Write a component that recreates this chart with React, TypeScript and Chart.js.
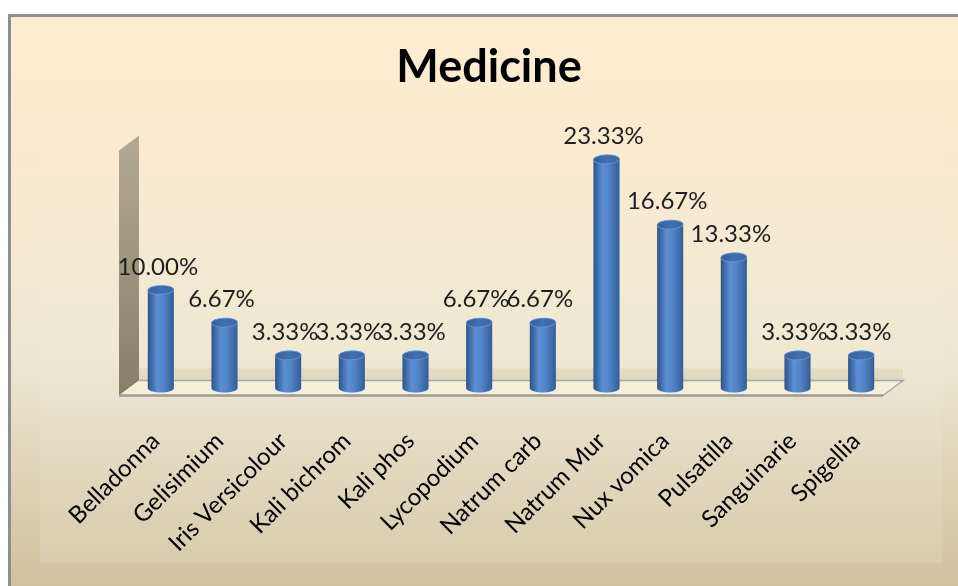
import React, { useEffect, useRef } from "react";
import { Chart, registerables } from "chart.js";

Chart.register(...registerables);

const categories = [
  "Belladonna",
  "Gelisimium",
  "Iris Versicolour",
  "Kali bichrom",
  "Kali phos",
  "Lycopodium",
  "Natrum carb",
  "Natrum Mur",
  "Nux vomica",
  "Pulsatilla",
  "Sanguinarie",
  "Spigellia",
];
const values = [10.0, 6.67, 3.33, 3.33, 3.33, 6.67, 6.67, 23.33, 16.67, 13.33, 3.33, 3.33];
const titleText = "Medicine";
const yMax = 25;

const FONT = "Lato, 'Open Sans', sans-serif";
const DX = 10; // half depth offset
const DY = 7.5;

const backgroundPlugin = {
  id: "bg3d",
  beforeDraw(chart: any) {
    const ctx = chart.ctx as CanvasRenderingContext2D;
    const W = chart.width;
    const H = chart.height;
    ctx.save();
    ctx.fillStyle = "#ffffff";
    ctx.fillRect(0, 0, W, H);
    const g = ctx.createLinearGradient(0, 15, 0, H);
    g.addColorStop(0, "#FDEDD0");
    g.addColorStop(0.25, "#FAEBD0");
    g.addColorStop(0.6, "#EFE7D2");
    g.addColorStop(1, "#D0C19D");
    ctx.fillStyle = g;
    ctx.fillRect(9, 15, W, H);
    // inner plot area (subtle)
    const g2 = ctx.createLinearGradient(0, 40, 0, 563);
    g2.addColorStop(0, "rgba(255,255,255,0)");
    g2.addColorStop(0.6, "rgba(255,255,255,0.04)");
    g2.addColorStop(1, "rgba(255,255,255,0.12)");
    ctx.fillStyle = g2;
    ctx.fillRect(40, 40, 902, 523);
    ctx.strokeStyle = "#8E8E8E";
    ctx.lineWidth = 3;
    ctx.beginPath();
    ctx.moveTo(9.5, H + 2);
    ctx.lineTo(9.5, 15.5);
    ctx.lineTo(W + 2, 15.5);
    ctx.stroke();
    // title
    ctx.fillStyle = "#000";
    ctx.font = `bold 45px ${FONT}`;
    ctx.textAlign = "center";
    ctx.textBaseline = "middle";
    ctx.fillText(titleText, 489, 67);
    ctx.restore();
  },
  beforeDatasetsDraw(chart: any) {
    const ctx = chart.ctx as CanvasRenderingContext2D;
    const { left, right } = chart.chartArea;
    const y = chart.scales.y;
    const topY = y.getPixelForValue(yMax);
    const base = y.getPixelForValue(0);
    ctx.save();
    // left wall
    const wg = ctx.createLinearGradient(0, topY, 0, base);
    wg.addColorStop(0, "#B3A993");
    wg.addColorStop(1, "#8A7F69");
    ctx.fillStyle = wg;
    ctx.beginPath();
    ctx.moveTo(left - DX, base + DY);
    ctx.lineTo(left - DX, topY + DY);
    ctx.lineTo(left + DX, topY - DY);
    ctx.lineTo(left + DX, base - DY);
    ctx.closePath();
    ctx.fill();
    // back wall bottom strip (darker beige behind floor)
    ctx.fillStyle = "rgba(200,185,150,0.25)";
    ctx.fillRect(left + DX, base - DY - 12, right - left, 12);
    // floor
    ctx.fillStyle = "#F4EEDB";
    ctx.beginPath();
    ctx.moveTo(left - DX, base + DY);
    ctx.lineTo(right - DX, base + DY);
    ctx.lineTo(right + DX, base - DY);
    ctx.lineTo(left + DX, base - DY);
    ctx.closePath();
    ctx.fill();
    ctx.strokeStyle = "#A8A8A8";
    ctx.lineWidth = 1.5;
    ctx.beginPath();
    ctx.moveTo(left + DX, base - DY);
    ctx.lineTo(right + DX, base - DY);
    ctx.lineTo(right - DX, base + DY);
    ctx.stroke();
    ctx.strokeStyle = "#9A9A9A";
    ctx.lineWidth = 2.5;
    ctx.beginPath();
    ctx.moveTo(left - DX, base + DY);
    ctx.lineTo(right - DX, base + DY);
    ctx.stroke();
    ctx.restore();
  },
  afterDatasetsDraw(chart: any) {
    const ctx = chart.ctx as CanvasRenderingContext2D;
    const meta = chart.getDatasetMeta(0);
    ctx.save();
    meta.data.forEach((bar: any, i: number) => {
      const { x, y, base, width } = bar.getProps(["x", "y", "base", "width"], true);
      const rx = width / 2;
      const ry = 4.5;
      const g = ctx.createLinearGradient(x - rx, 0, x + rx, 0);
      g.addColorStop(0, "#2C5389");
      g.addColorStop(0.35, "#5B8ED2");
      g.addColorStop(0.6, "#5284C8");
      g.addColorStop(1, "#335D98");
      ctx.fillStyle = g;
      ctx.beginPath();
      ctx.moveTo(x - rx, y);
      ctx.lineTo(x - rx, base);
      ctx.ellipse(x, base, rx, ry, 0, Math.PI, 0, true);
      ctx.lineTo(x + rx, y);
      ctx.ellipse(x, y, rx, ry, 0, 0, Math.PI, true);
      ctx.closePath();
      ctx.fill();
      // top cap
      const tg = ctx.createLinearGradient(x - rx, 0, x + rx, 0);
      tg.addColorStop(0, "#345F9C");
      tg.addColorStop(0.5, "#416FB0");
      tg.addColorStop(1, "#3A66A4");
      ctx.fillStyle = tg;
      ctx.beginPath();
      ctx.ellipse(x, y, rx, ry, -0.04, 0, Math.PI * 2);
      ctx.fill();
      ctx.strokeStyle = "rgba(120,160,215,0.7)";
      ctx.lineWidth = 1;
      ctx.stroke();
      // value label
      ctx.fillStyle = "#1E1E1E";
      ctx.font = `24px ${FONT}`;
      ctx.textAlign = "center";
      ctx.textBaseline = "middle";
      ctx.fillText(values[i].toFixed(2) + "%", x - 3, y - 23);
      // category label
      ctx.save();
      ctx.translate(x - 5, 437);
      ctx.rotate(-Math.PI / 4);
      ctx.fillStyle = "#000";
      ctx.font = `24px ${FONT}`;
      ctx.textAlign = "right";
      ctx.textBaseline = "middle";
      ctx.fillText(categories[i], 0, 0);
      ctx.restore();
    });
    ctx.restore();
  },
};

export default function App() {
  const ref = useRef<HTMLCanvasElement | null>(null);
  useEffect(() => {
    if (!ref.current) return;
    const chart = new Chart(ref.current, {
      type: "bar",
      data: {
        labels: categories,
        datasets: [
          {
            data: values,
            backgroundColor: "rgba(0,0,0,0)",
            borderWidth: 0,
            barPercentage: 0.82,
            categoryPercentage: 0.5,
          },
        ],
      },
      options: {
        animation: false,
        responsive: false,
        maintainAspectRatio: false,
        layout: { padding: { left: 129, right: 65, top: 143, bottom: 198 } },
        scales: {
          x: { display: false },
          y: { display: false, min: 0, max: yMax },
        },
        plugins: {
          legend: { display: false },
          tooltip: { enabled: false },
          title: { display: false },
        },
      },
      plugins: [backgroundPlugin],
    });
    return () => chart.destroy();
  }, []);
  return (
    <div style={{ position: "fixed", left: 0, top: 0, width: 958, height: 586 }}>
      <canvas ref={ref} width={958} height={586} style={{ display: "block" }} />
    </div>
  );
}
